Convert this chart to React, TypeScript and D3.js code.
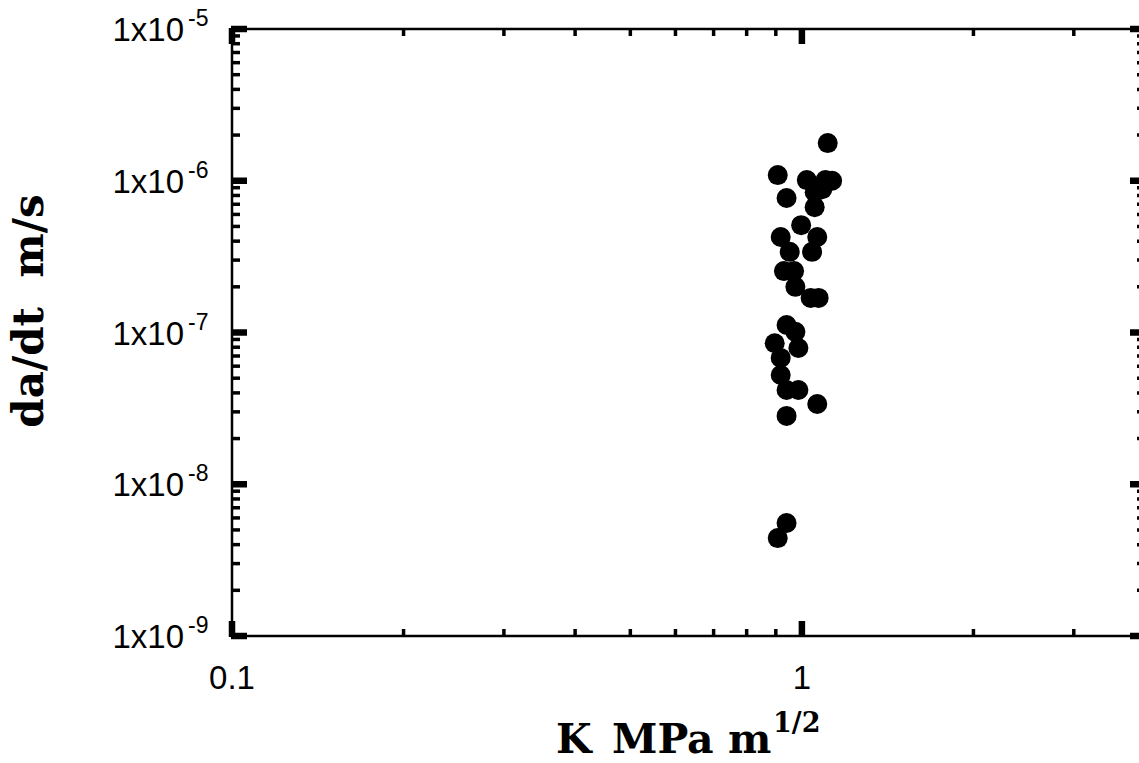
import React from "react";
import * as d3 from "d3";

// stress intensity K (MPa m^1/2) and crack velocity da/dt (m/s)
const kValues = [
  1.11, 0.907, 1.02, 1.1, 1.13, 1.053, 1.086, 0.94, 1.053, 0.997, 0.918, 1.064,
  0.952, 1.042, 0.93, 0.969, 0.974, 1.036, 1.07, 0.94, 0.974, 0.896, 0.986,
  0.918, 0.918, 0.94, 0.986, 1.064, 0.94, 0.94, 0.907,
];
const rateValues = [
  1.77e-6, 1.09e-6, 1.01e-6, 1.01e-6, 1.0e-6, 8.4e-7, 8.8e-7, 7.7e-7, 6.7e-7,
  5.1e-7, 4.26e-7, 4.26e-7, 3.4e-7, 3.4e-7, 2.54e-7, 2.54e-7, 2.0e-7, 1.69e-7,
  1.69e-7, 1.12e-7, 1.01e-7, 8.5e-8, 7.9e-8, 6.8e-8, 5.25e-8, 4.18e-8, 4.18e-8,
  3.38e-8, 2.82e-8, 5.55e-9, 4.42e-9,
];
const xTickLabels = ["0.1", "1"];
const yExponents = [-5, -6, -7, -8, -9];

const W = 1139;
const H = 763;
const left = 232;
const right = 1145;
const top = 29;
const bottom = 636;

const App = () => {
  const x = d3.scaleLog().domain([0.1, 4]).range([left, right]);
  const y = d3.scaleLog().domain([1e-9, 1e-5]).range([bottom, top]);

  const isMajor = (v: number) => Math.abs(Math.log10(v) - Math.round(Math.log10(v))) < 1e-6;

  const xTicks = x.ticks();
  const yTicks = y.ticks();

  const axisColor = "#000";
  const sansFont = "'Liberation Sans', Arial, sans-serif";
  const serifFont = "'DejaVu Serif', serif";

  return (
    <svg
      width={W}
      height={H}
      style={{ position: "absolute", left: 0, top: 0, background: "#fff" }}
    >
      {/* frame */}
      <rect
        x={left}
        y={top}
        width={right - left}
        height={bottom - top}
        fill="none"
        stroke={axisColor}
        strokeWidth={2.5}
      />

      {/* x ticks, bottom and top, pointing inward */}
      {xTicks.map((v, i) => {
        const major = isMajor(v);
        const len = major ? 15 : 7;
        const sw = major ? 6.5 : 3.5;
        const px = x(v);
        return (
          <g key={"xt" + i}>
            <line x1={px} x2={px} y1={bottom + 1} y2={bottom - len} stroke={axisColor} strokeWidth={sw} />
            <line x1={px} x2={px} y1={top - 1} y2={top + len} stroke={axisColor} strokeWidth={sw} />
          </g>
        );
      })}

      {/* y ticks, left and right, pointing inward */}
      {yTicks.map((v, i) => {
        const major = isMajor(v);
        const len = major ? 15 : 8;
        const sw = major ? 6.5 : 3.5;
        const py = y(v);
        return (
          <g key={"yt" + i}>
            <line x1={left - 1} x2={left + len} y1={py} y2={py} stroke={axisColor} strokeWidth={sw} />
            <line x1={right + 1} x2={right - len} y1={py} y2={py} stroke={axisColor} strokeWidth={sw} />
          </g>
        );
      })}

      {/* x tick labels */}
      {xTickLabels.map((t) => (
        <text
          key={"xl" + t}
          x={x(+t)}
          y={689}
          textAnchor="middle"
          fontFamily={sansFont}
          fontSize={33}
        >
          {t}
        </text>
      ))}

      {/* y tick labels */}
      {yExponents.map((e) => {
        const py = y(Math.pow(10, e));
        return (
          <g key={"yl" + e} fontFamily={sansFont}>
            <text x={184} y={py + 12} textAnchor="end" fontSize={33}>
              1x10
            </text>
            <text x={188} y={py - 3} textAnchor="start" fontSize={23}>
              {e}
            </text>
          </g>
        );
      })}

      {/* points */}
      {kValues.map((k, i) => (
        <circle key={"p" + i} cx={x(k)} cy={y(rateValues[i])} r={10} fill="#000" />
      ))}

      {/* axis titles */}
      <text
        transform={`translate(43, 311) rotate(-90)`}
        textAnchor="middle"
        fontFamily={serifFont}
        fontWeight="bold"
        fontSize={42}
        style={{ whiteSpace: "pre" }}
      >
        {"da/dt  m/s"}
      </text>
      <g fontFamily={serifFont} fontWeight="bold">
        <text x={556} y={753} fontSize={41}>
          K
        </text>
        <text x={612} y={753} fontSize={41}>
          MPa m
        </text>
        <text x={773} y={732} fontSize={27}>
          1/2
        </text>
      </g>
    </svg>
  );
};

export default App;
